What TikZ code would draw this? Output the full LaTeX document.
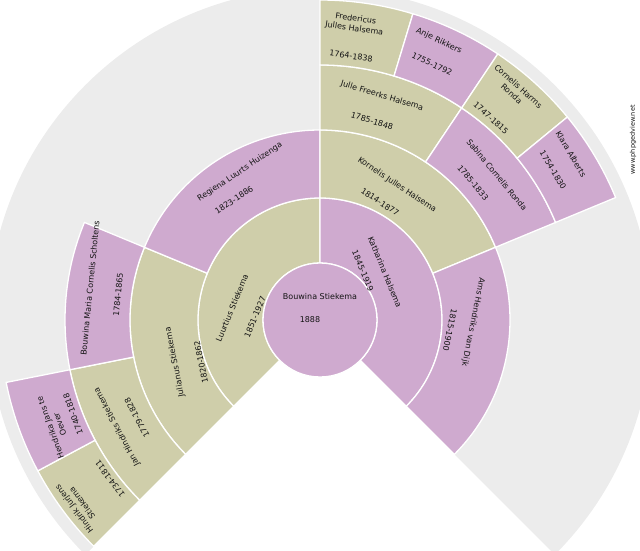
\documentclass[tikz,border=0pt]{standalone}
\usepackage{fontspec}
\setmainfont{DejaVu Sans}
\definecolor{olivec}{RGB}{207,206,170}
\definecolor{mauvec}{RGB}{207,170,207}
\definecolor{bggray}{RGB}{236,236,236}
\definecolor{txtc}{RGB}{20,20,20}
\begin{document}
\begin{tikzpicture}[x=1pt,y=1pt,
  man/.style={fill=olivec},
  woman/.style={fill=mauvec},
  sep/.style={draw=white,line width=1.3pt},
  lbl/.style={inner sep=0pt,font=\fontsize{8}{10}\selectfont,align=center,text=txtc}]
\useasboundingbox (0,0) rectangle (640,550);
\clip (0,0) rectangle (640,550);
\newcommand{\sect}[5]{\path[#5,sep,shift={(320,230)}] (#1:#3) arc[start angle=#1,end angle=#2,radius=#3] -- (#2:#4) arc[start angle=#2,end angle=#1,radius=#4] -- cycle;}
% background fan
\fill[bggray,shift={(320,230)}] (0,0) -- (-45:332) arc[start angle=-45,end angle=225,radius=332] -- cycle;
% generation 1
\sect{225}{90}{57}{122}{man}
\sect{90}{-45}{57}{122}{woman}
% generation 2
\sect{225}{157.5}{122}{190}{man}
\sect{157.5}{90}{122}{190}{woman}
\sect{90}{22.5}{122}{190}{man}
\sect{22.5}{-45}{122}{190}{woman}
% generation 3
\sect{225}{191.25}{190}{255}{man}
\sect{191.25}{157.5}{190}{255}{woman}
\sect{90}{56.25}{190}{255}{man}
\sect{56.25}{22.5}{190}{255}{woman}
% generation 4
\sect{225}{208.125}{255}{320}{man}
\sect{208.125}{191.25}{255}{320}{woman}
\sect{90}{73.125}{255}{320}{man}
\sect{73.125}{56.25}{255}{320}{woman}
\sect{56.25}{39.375}{255}{320}{man}
\sect{39.375}{22.5}{255}{320}{woman}
% center
\path[woman,sep] (320,230) circle[radius=57];
% texts
\node[lbl] (c1) at (320,253) {Bouwina Stiekema};
\node[lbl] (c2) at (310,230) {1888};
\node[lbl,rotate=67.5] (l1) at (232,242) {Luurtius Stiekema};
\node[lbl,rotate=67.5] (l2) at (255,233) {1851-1927};
\node[lbl,rotate=-67.5] (k1) at (385,278) {Katharina Halsema};
\node[lbl,rotate=-67.5] (k2) at (363,279) {1845-1919};
\node[lbl,rotate=-101.25] (a1) at (473,228) {Ams Hendriks van Dijk};
\node[lbl,rotate=-101.25] (a2) at (450,220) {1815-1900};
\node[lbl,rotate=101.25] (j1) at (175,188) {Julianus Stiekema};
\node[lbl,rotate=101.25] (j2) at (201,188) {1820-1862};
\node[lbl,rotate=33.75] (r1) at (240,378) {Regiena Luurts Huizenga};
\node[lbl,rotate=33.75] (r2) at (234,350) {1823-1886};
\node[lbl,rotate=-33.75] (ko1) at (397,365) {Kornelis Julles Halsema};
\node[lbl,rotate=-33.75] (ko2) at (380,348) {1814-1877};
\node[lbl,rotate=-16.9] (jf1) at (382,454) {Julle Freerks Halsema};
\node[lbl,rotate=-16.9] (jf2) at (372,429) {1785-1848};
\node[lbl,rotate=-50.6] (s1) at (497,375) {Sabina Cornelis Ronda};
\node[lbl,rotate=-50.6] (s2) at (473,367) {1785-1833};
\node[lbl,rotate=-8.4] (f1) at (355,526) {Fredericus\\Julles Halsema};
\node[lbl,rotate=-8.4] (f2) at (351,494) {1764-1838};
\node[lbl,rotate=-25.3] (an1) at (439,509) {Anje Rikkers};
\node[lbl,rotate=-25.3] (an2) at (432,486) {1755-1792};
\node[lbl,rotate=-42.2] (ch1) at (515,460) {Cornelis Harms\\Ronda};
\node[lbl,rotate=-42.2] (ch2) at (491,432) {1747-1815};
\node[lbl,rotate=-59.1] (kl1) at (571,396) {Klara Alberts};
\node[lbl,rotate=-59.1] (kl2) at (553,380) {1754-1830};
\node[lbl,rotate=84.4] (b1) at (90,262) {Bouwina Maria Cornelis Scholtens};
\node[lbl,rotate=84.4] (b2) at (118,255) {1784-1865};
\node[lbl,rotate=118.1] (jh1) at (117,123) {Jan Hindriks Stiekema};
\node[lbl,rotate=118.1] (jh2) at (137,132) {1779-1828};
\node[lbl,rotate=109.7] (h1) at (55,124) {Hendrika Jans te\\Oever};
\node[lbl,rotate=109.7] (h2) at (73,136) {1740-1818};
\node[lbl,rotate=126.6] (hj1) at (78,44) {Hindrik Jurjens\\Stiekema};
\node[lbl,rotate=126.6] (hj2) at (110,71) {1734-1811};
\node[lbl,rotate=90,font=\fontsize{6.5}{8}\selectfont] (w) at (633,410) {www.phpgedview.net};
\end{tikzpicture}
\end{document}
